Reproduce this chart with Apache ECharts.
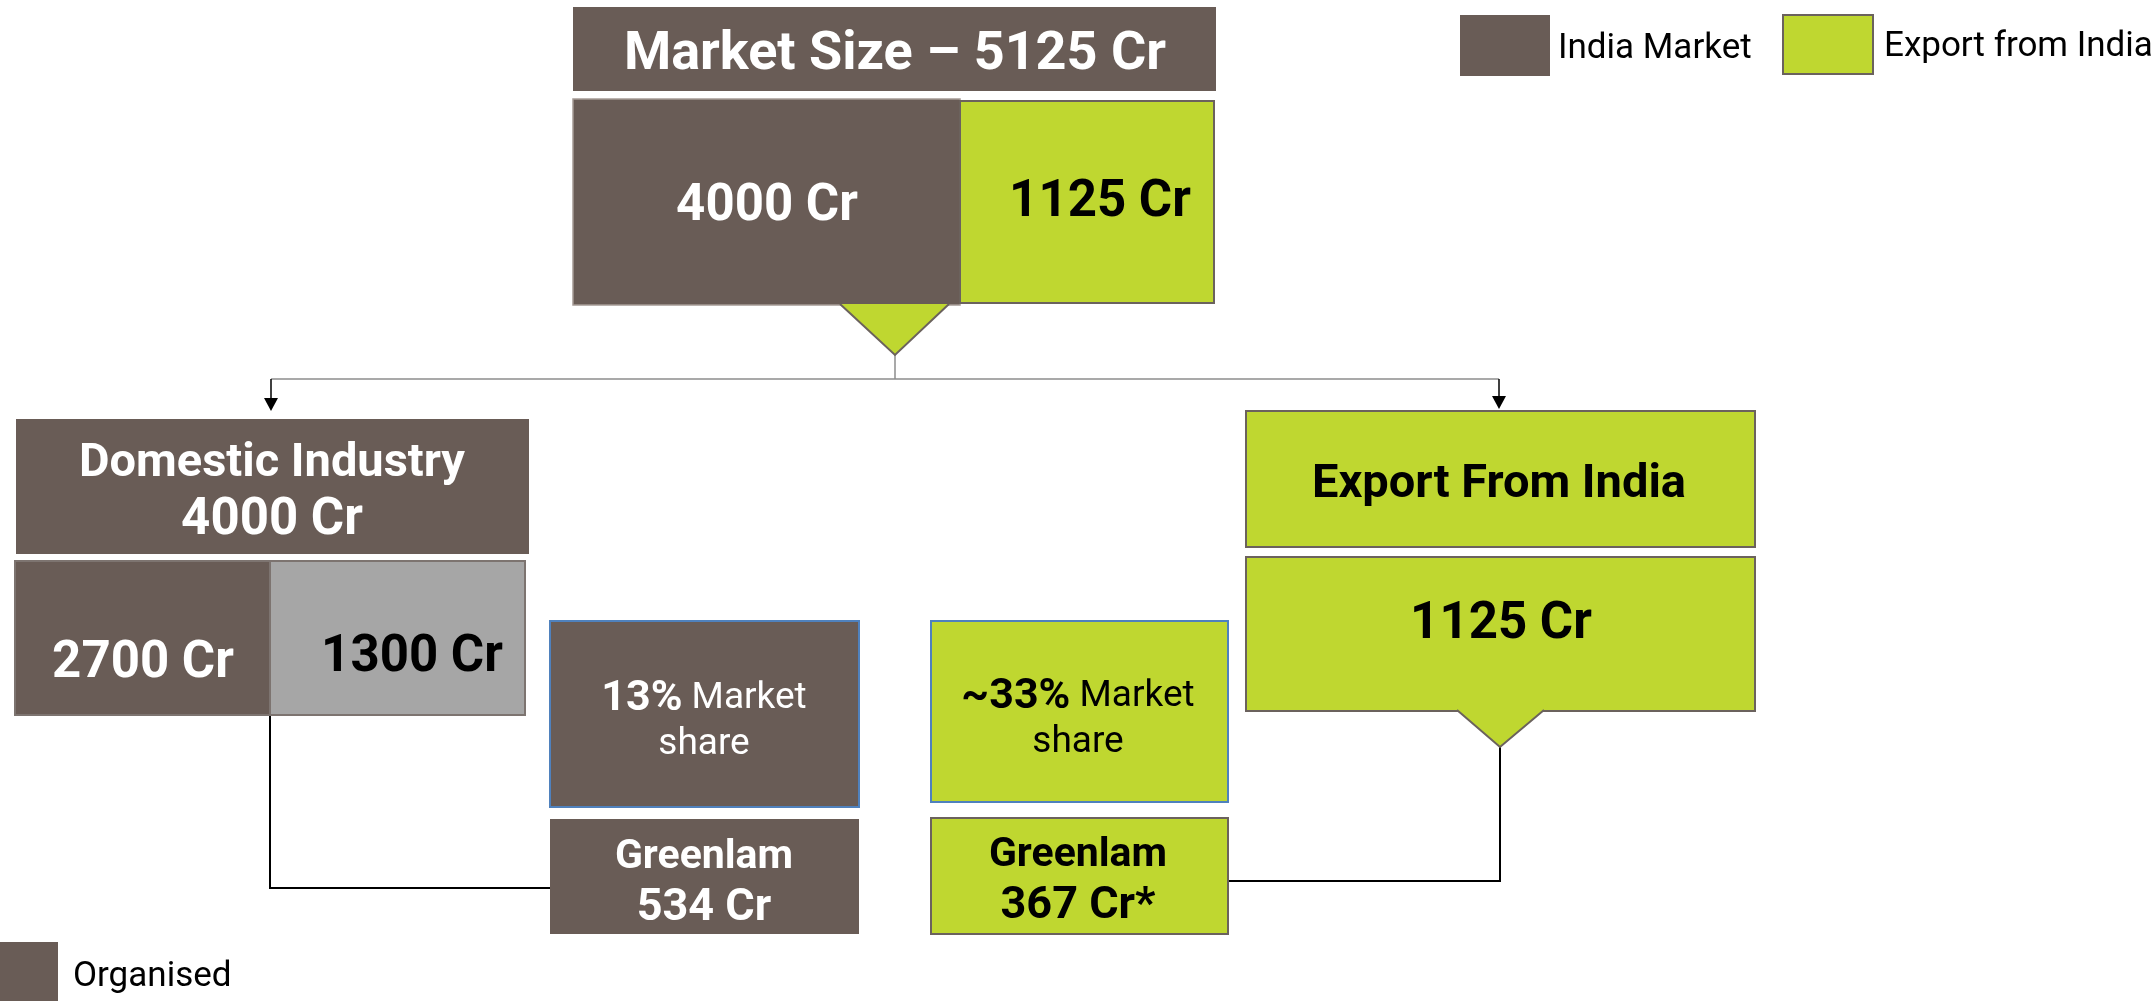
<!DOCTYPE html>
<html>
<head>
<meta charset="utf-8">
<script src="https://cdn.jsdelivr.net/npm/echarts@6/dist/echarts.min.js"></script>
<style>
html,body{margin:0;padding:0;background:#fff;}
#chart{width:2156px;height:1001px;}
</style>
</head>
<body>
<div id="chart"></div>
<script>
// ---------------- DATA ----------------
const marketSizeTotal = 5125;
const marketSplitLabels = ['India Market', 'Export from India'];
const marketSplitValues = [4000, 1125];
const domesticSplitLabels = ['Organised', 'Unorganised'];
const domesticSplitValues = [2700, 1300];
const greenlamValues = [534, 367];
const greenlamShareLabels = ['13%', '~33%'];
const legendLabels = ['India Market', 'Export from India', 'Organised'];

// ---------------- STYLE / LAYOUT ----------------
const W = 2156, H = 1001;
const BROWN = '#695c56', GREEN = '#bfd730', GREY = '#a6a6a6';
const DARK = '#6b625d', BLUE = '#4f81bd';
const FONT = 'Roboto, "Noto Sans", sans-serif';

// rich-text line styles (font sizes per role)
function richStyles(color) {
  return {
    h:{fontFamily:FONT, fontWeight:'bold', fontSize:47, fill:color, lineHeight:57},
    n:{fontFamily:FONT, fontWeight:'bold', fontSize:51, fill:color, lineHeight:57},
    g:{fontFamily:FONT, fontWeight:'bold', fontSize:41, fill:color, lineHeight:51},
    gn:{fontFamily:FONT, fontWeight:'bold', fontSize:45, fill:color, lineHeight:51},
    b:{fontFamily:FONT, fontWeight:'bold', fontSize:43, fill:color, lineHeight:46},
    r:{fontFamily:FONT, fontWeight:'normal', fontSize:37, fill:color, lineHeight:46}
  };
}

// boxes in diagram units (x to the right, y downward)
const boxes = [
  {r:[573,7,1216,91], fill:BROWN, text:'Market Size \u2013 ' + marketSizeTotal + ' Cr', t:[895,55], color:'#fff', size:54},
  {r:[573,99,960,305], fill:BROWN, stroke:'#a59a95', lw:1.5, text:marketSplitValues[0] + ' Cr', t:[767,207], color:'#fff', size:51},
  {r:[960,101,1214,303], fill:GREEN, stroke:DARK, lw:2, text:marketSplitValues[1] + ' Cr', t:[1100,203], color:'#000', size:51},
  {r:[16,419,529,554], fill:BROWN, rich:'{h|Domestic Industry}\n{n|' + marketSplitValues[0] + ' Cr}', t:[272,493], color:'#fff'},
  {r:[15,561,270,715], fill:BROWN, stroke:'#7d7470', lw:2, text:domesticSplitValues[0] + ' Cr', t:[143,664], color:'#fff', size:51},
  {r:[270,561,525,715], fill:GREY, stroke:'#7d7470', lw:2, text:domesticSplitValues[1] + ' Cr', t:[412,658], color:'#000', size:51},
  {r:[550,621,859,807], fill:BROWN, stroke:BLUE, lw:2, rich:'{b|' + greenlamShareLabels[0] + '}{r| Market}\n{r|share}', t:[704,722], color:'#fff'},
  {r:[550,819,859,934], fill:BROWN, rich:'{g|Greenlam}\n{gn|' + greenlamValues[0] + ' Cr}', t:[704,883], color:'#fff'},
  {r:[931,621,1228,802], fill:GREEN, stroke:BLUE, lw:2, rich:'{b|' + greenlamShareLabels[1] + '}{r| Market}\n{r|share}', t:[1078,720], color:'#000'},
  {r:[931,818,1228,934], fill:GREEN, stroke:DARK, lw:2, rich:'{g|Greenlam}\n{gn|' + greenlamValues[1] + ' Cr*}', t:[1078,881], color:'#000'},
  {r:[1246,411,1755,547], fill:GREEN, stroke:DARK, lw:2, text:'Export From India', t:[1499,485], color:'#000', size:47},
  {r:[1246,557,1755,711], fill:GREEN, stroke:DARK, lw:2, text:marketSplitValues[1] + ' Cr', t:[1501,625], color:'#000', size:51},
  // legend
  {r:[1460,15,1550,76], fill:BROWN, text:legendLabels[0], t:[1558,49], color:'#000', size:35, weight:'normal', align:'left'},
  {r:[1783,15,1873,74], fill:GREEN, stroke:DARK, lw:2, text:legendLabels[1], t:[1884,47], color:'#000', size:35, weight:'normal', align:'left'},
  {r:[0,942,58,1001], fill:BROWN, text:legendLabels[2], t:[73,977], color:'#000', size:35, weight:'normal', align:'left'}
];

// callout triangles [baseLeft, baseRight, baseY, apexX, apexY]
const callouts = [
  [840, 949, 304, 895, 355],
  [1457, 1544, 710, 1500, 747]
];

// connector lines
const connectors = [
  {pts:[[895,355],[895,379]], color:'#8c8c8c', lw:1.5},
  {pts:[[271,379],[1499,379]], color:'#8c8c8c', lw:1.5},
  {pts:[[271,379],[271,400]], color:'#000', lw:1.5},
  {pts:[[1499,379],[1499,398]], color:'#000', lw:1.5},
  {pts:[[270,715],[270,888],[550,888]], color:'#000', lw:2},
  {pts:[[1228,881],[1500,881],[1500,747]], color:'#000', lw:2}
];
const arrowHeads = [[271,411],[1499,409]];

function renderBox(params, api) {
  const b = boxes[params.dataIndex];
  const p0 = api.coord([b.r[0], b.r[1]]);
  const p1 = api.coord([b.r[2], b.r[3]]);
  const tp = api.coord(b.t);
  const children = [{
    type:'rect',
    shape:{x:p0[0], y:p0[1], width:p1[0]-p0[0], height:p1[1]-p0[1]},
    style:{fill:b.fill, stroke:b.stroke || null, lineWidth:b.lw || 0}
  }];
  if (b.rich) {
    children.push({
      type:'text',
      style:{
        text:b.rich, x:tp[0], y:tp[1], align:'center', verticalAlign:'middle',
        fill:b.color, rich:richStyles(b.color)
      }
    });
  } else {
    children.push({
      type:'text',
      style:{
        text:b.text, x:tp[0], y:tp[1], align:b.align || 'center', verticalAlign:'middle',
        fill:b.color, fontFamily:FONT, fontWeight:b.weight || 'bold', fontSize:b.size,
        lineHeight:b.size * 1.2
      }
    });
  }
  return {type:'group', children:children};
}

function renderCallout(params, api) {
  const c = callouts[params.dataIndex];
  const a = api.coord([c[0], c[2]]), bR = api.coord([c[1], c[2]]), ap = api.coord([c[3], c[4]]);
  return {type:'group', children:[
    {type:'polygon', shape:{points:[a, bR, ap]}, style:{fill:GREEN}},
    {type:'polyline', shape:{points:[a, ap, bR]}, style:{stroke:DARK, lineWidth:2, fill:null}}
  ]};
}

function renderConnector(params, api) {
  const c = connectors[params.dataIndex];
  return {type:'polyline', shape:{points:c.pts.map(p => api.coord(p))},
          style:{stroke:c.color, lineWidth:c.lw, fill:null}};
}

function renderArrow(params, api) {
  const a = arrowHeads[params.dataIndex];
  return {type:'polygon', shape:{points:[
    api.coord([a[0]-7, a[1]-13]), api.coord([a[0]+7, a[1]-13]), api.coord(a)
  ]}, style:{fill:'#000'}};
}

const chart = echarts.init(document.getElementById('chart'));
chart.setOption({
  backgroundColor:'#fff',
  animation:false,
  grid:{left:0, right:0, top:0, bottom:0},
  xAxis:{type:'value', min:0, max:W, show:false},
  yAxis:{type:'value', min:0, max:H, inverse:true, show:false},
  series:[
    {type:'custom', coordinateSystem:'cartesian2d', renderItem:renderConnector, data:connectors.map((c,i)=>[i]), silent:true, clip:false, z:1},
    {type:'custom', coordinateSystem:'cartesian2d', renderItem:renderArrow, data:arrowHeads.map((c,i)=>[i]), silent:true, clip:false, z:2},
    {type:'custom', coordinateSystem:'cartesian2d', renderItem:renderBox, data:boxes.map((b,i)=>[i]), silent:true, clip:false, z:3},
    {type:'custom', coordinateSystem:'cartesian2d', renderItem:renderCallout, data:callouts.map((c,i)=>[i]), silent:true, clip:false, z:4}
  ]
});
</script>
</body>
</html>
